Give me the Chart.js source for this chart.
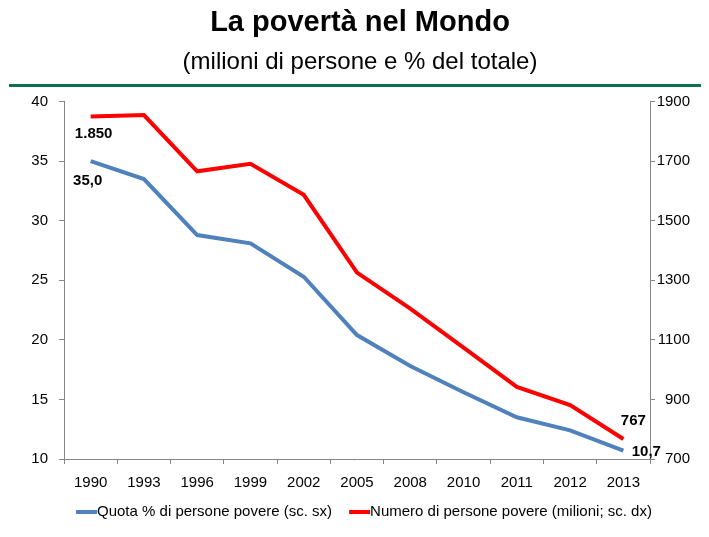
<!DOCTYPE html>
<html>
<head>
<meta charset="utf-8">
<script src="https://cdn.jsdelivr.net/npm/chart.js@4"></script>
<style>
  html, body { margin: 0; padding: 0; background: #fff; }
  #wrap { width: 709px; height: 537px; }
</style>
</head>
<body>
<div id="wrap"><canvas id="c" width="709" height="537"></canvas></div>
<script>
const years = ['1990', '1993', '1996', '1999', '2002', '2005', '2008', '2010', '2011', '2012', '2013'];
const quotaPct = [35.0, 33.5, 28.8, 28.1, 25.3, 20.4, 17.8, 15.6, 13.5, 12.4, 10.7];
const numeroMln = [1850, 1855, 1666, 1691, 1587, 1326, 1205, 1074, 942, 881, 767];

const FONT = "'Liberation Sans', Arial, sans-serif";
const AXIS = '#868686';

// green rule under the subtitle
const rulePlugin = {
  id: 'rule',
  afterDraw(chart) {
    const ctx = chart.ctx;
    ctx.save();
    ctx.fillStyle = '#0B7150';
    ctx.fillRect(9, 84, 692, 3);
    ctx.restore();
  }
};

// legend like the excel one: line swatch, text right after it
const lineLegend = {
  id: 'lineLegend',
  afterDraw(chart) {
    const ctx = chart.ctx;
    let x = 76;
    const y = 512;
    ctx.save();
    ctx.font = '15px ' + FONT;
    ctx.textBaseline = 'middle';
    ctx.textAlign = 'left';
    chart.data.datasets.forEach(ds => {
      ctx.fillStyle = ds.borderColor;
      ctx.fillRect(x, y - 2, 21, 4);
      x += 21;
      ctx.fillStyle = '#000';
      ctx.fillText(ds.label, x, y);
      x += ctx.measureText(ds.label).width + 17;
    });
    ctx.restore();
  }
};

// labels on first and last points
const endLabels = {
  id: 'endLabels',
  afterDatasetsDraw(chart) {
    const ctx = chart.ctx;
    const b = chart.getDatasetMeta(0).data;
    const r = chart.getDatasetMeta(1).data;
    const n = years.length - 1;
    ctx.save();
    ctx.font = 'bold 15px ' + FONT;
    ctx.fillStyle = '#000';
    ctx.textAlign = 'center';
    ctx.textBaseline = 'middle';
    ctx.fillText(numeroMln[0].toLocaleString('it-IT'), r[0].x + 3, r[0].y + 17);
    ctx.fillText(quotaPct[0].toFixed(1).replace('.', ','), b[0].x - 3, b[0].y + 20);
    ctx.fillText(String(numeroMln[n]), r[n].x + 10, r[n].y - 18);
    ctx.fillText(quotaPct[n].toFixed(1).replace('.', ','), b[n].x + 23, b[n].y + 1);
    ctx.restore();
  }
};

new Chart(document.getElementById('c'), {
  type: 'line',
  data: {
    labels: years,
    datasets: [{
      label: 'Quota % di persone povere (sc. sx)',
      data: quotaPct,
      yAxisID: 'y',
      borderColor: '#4F81BD',
      backgroundColor: '#4F81BD',
      borderWidth: 4,
      pointRadius: 0,
      tension: 0,
    }, {
      label: 'Numero di persone povere (milioni; sc. dx)',
      data: numeroMln,
      yAxisID: 'y1',
      borderColor: '#FF0000',
      backgroundColor: '#FF0000',
      borderWidth: 4,
      pointRadius: 0,
      tension: 0,
    }],
  },
  options: {
    responsive: false,
    animation: false,
    layout: { padding: { left: 30, right: 19, top: 0, bottom: 35 } },
    plugins: {
      title: {
        display: true,
        text: 'La povertà nel Mondo',
        color: '#000',
        font: { family: FONT, size: 29, weight: 'bold' },
        padding: { top: 6, bottom: 0 },
      },
      subtitle: {
        display: true,
        text: '(milioni di persone e % del totale)',
        color: '#000',
        font: { family: FONT, size: 24 },
        padding: { top: 7, bottom: 25 },
      },
      legend: { display: false },
      tooltip: { enabled: false },
    },
    scales: {
      x: {
        offset: true,
        grid: { drawOnChartArea: false, offset: true, tickLength: 5, color: AXIS },
        border: { color: AXIS },
        ticks: { color: '#000', font: { family: FONT, size: 15 }, padding: 10, maxRotation: 0 },
      },
      y: {
        position: 'left',
        min: 10, max: 40,
        ticks: { stepSize: 5, color: '#000', font: { family: FONT, size: 15 }, padding: 11 },
        grid: { drawOnChartArea: false, tickLength: 5, color: AXIS },
        border: { color: AXIS },
        afterFit(s) { s.width = 34; },
      },
      y1: {
        position: 'right',
        min: 700, max: 1900,
        ticks: {
          stepSize: 200, color: '#000', font: { family: FONT, size: 15 }, padding: 7,
          crossAlign: 'far', callback: v => String(v),
        },
        grid: { drawOnChartArea: false, tickLength: 5, color: AXIS },
        border: { color: AXIS },
        afterFit(s) { s.width = 40; },
      },
    },
  },
  plugins: [rulePlugin, lineLegend, endLabels],
});
</script>
</body>
</html>
